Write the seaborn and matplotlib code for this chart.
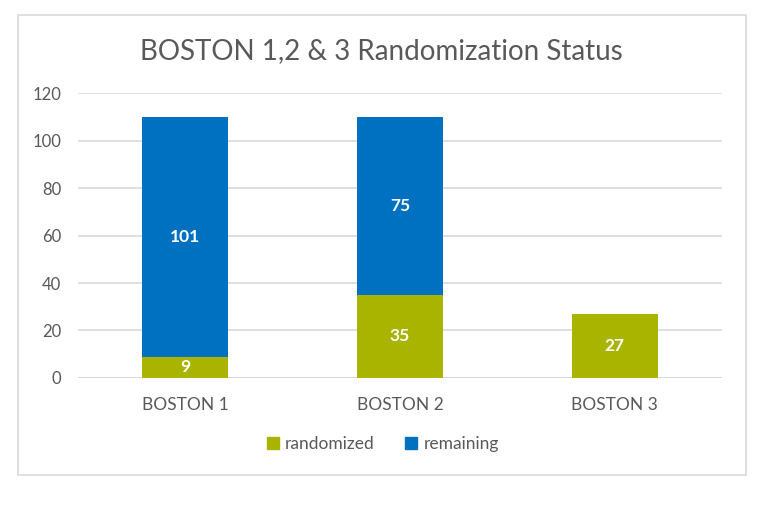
import pandas as pd
import matplotlib.pyplot as plt
import seaborn as sns
from matplotlib.lines import Line2D
from matplotlib.patches import Rectangle

# 数据
sites = ['BOSTON 1', 'BOSTON 2', 'BOSTON 3']
randomized = [9, 35, 27]
remaining = [101, 75, 0]

green = '#A8B400'
blue = '#0070C0'
grey_txt = '#595959'

df = pd.DataFrame({'site': sites, 'randomized': randomized, 'remaining': remaining})

sns.set_theme(style='white')
plt.rcParams['font.family'] = ['Lato', 'DejaVu Sans']

fig = plt.figure(figsize=(7.68, 5.05), dpi=100)
ax = fig.add_axes([0.1016, 0.2515, 0.8385, 0.5643])

# 堆叠柱状图：先画 randomized，再在其上画 remaining
sns.barplot(data=df, x='site', y='randomized', color=green, width=0.4,
            saturation=1, linewidth=0, ax=ax, zorder=3)
sns.barplot(data=df, x='site', y='remaining', bottom=df['randomized'], color=blue,
            width=0.4, saturation=1, linewidth=0, ax=ax, zorder=3)

# 数值标签
lab_r = [str(v) if v else '' for v in randomized]
lab_m = [str(v) if v else '' for v in remaining]
ax.bar_label(ax.containers[0], labels=lab_r, label_type='center',
             color='white', fontweight='bold', fontsize=12.5)
ax.bar_label(ax.containers[1], labels=lab_m, label_type='center',
             color='white', fontweight='bold', fontsize=12.5)

ax.set_ylim(0, 120)
ax.set_xlim(-0.5, 2.5)
ax.set_yticks(range(0, 121, 20))
ax.yaxis.grid(True, color='#D9D9D9', linewidth=1.2, zorder=0)
ax.set_axisbelow(True)
sns.despine(ax=ax, left=True, bottom=True)
ax.axhline(0, color='#D9D9D9', linewidth=1.2, zorder=1)
ax.set_xlabel('')
ax.set_ylabel('')
ax.tick_params(axis='both', length=0, labelcolor=grey_txt)
ax.tick_params(axis='x', pad=14, labelsize=12.5)
ax.tick_params(axis='y', pad=12, labelsize=12)

fig.text(0.497, 0.898, 'BOSTON 1,2 & 3 Randomization Status', ha='center', va='center',
         fontsize=20, color=grey_txt)

handles = [Line2D([], [], marker='s', linestyle='', color=green, markersize=8),
           Line2D([], [], marker='s', linestyle='', color=blue, markersize=8)]
fig.legend(handles, ['randomized', 'remaining'], loc='center', bbox_to_anchor=(0.497, 0.121),
           ncol=2, frameon=False, fontsize=12.5, labelcolor=grey_txt,
           handletextpad=0.2, columnspacing=1.6, handlelength=1)

# 外框
fig.patches.append(Rectangle((0.024, 0.06), 0.947, 0.91, transform=fig.transFigure,
                             fill=False, edgecolor='#D9D9D9', linewidth=1.2))

fig.savefig('out.png', dpi=100)
